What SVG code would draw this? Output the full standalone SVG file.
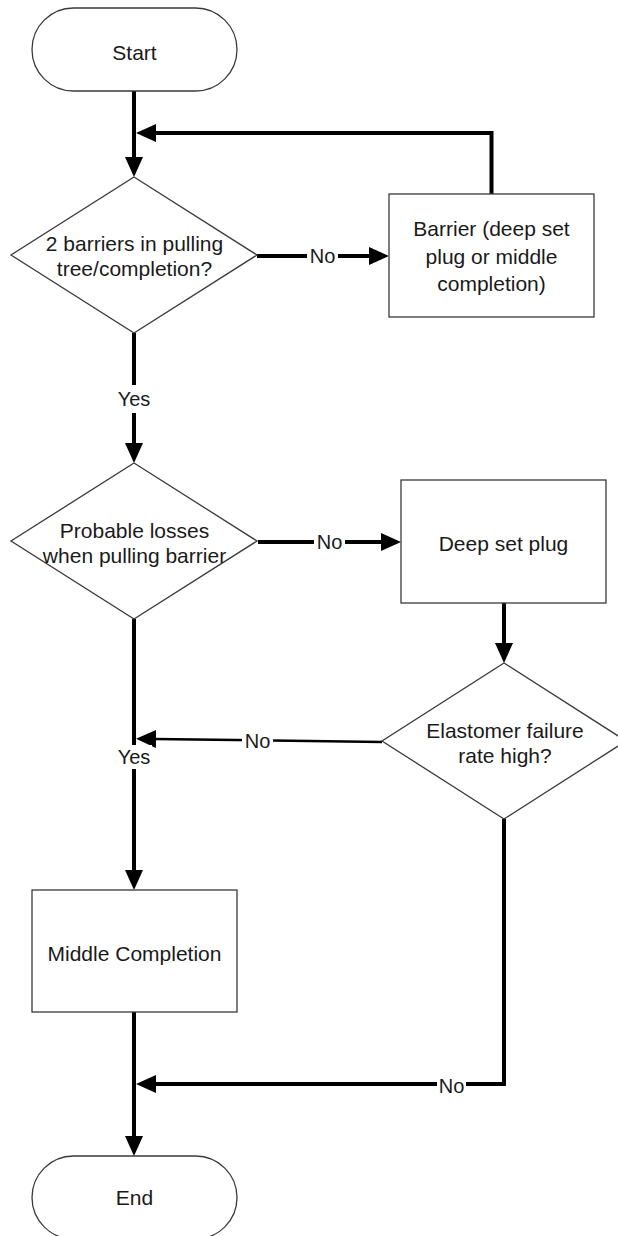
<svg xmlns="http://www.w3.org/2000/svg" width="618" height="1236" viewBox="0 0 618 1236">
<style>
.node{fill:#fff;stroke:#3a3a3a;stroke-width:1.3}
.t{font-family:"Liberation Sans",Arial,sans-serif;font-size:21px;fill:#1a1a1a;text-anchor:middle;dominant-baseline:central}
.lbl{font-family:"Liberation Sans",Arial,sans-serif;font-size:20px;fill:#1a1a1a;text-anchor:middle;dominant-baseline:central}
.c{fill:none;stroke:#000;stroke-width:4;stroke-linejoin:miter;stroke-linecap:butt;marker-end:url(#ah)}
.thin{stroke-width:2.5}
.bg{fill:#fff}
</style>
<defs>
<marker id="ah" markerUnits="userSpaceOnUse" viewBox="0 0 20 18" markerWidth="20" markerHeight="18" refX="2" refY="9" orient="auto">
<path d="M0,0 L20,9 L0,18 z" fill="#000"/>
</marker>
</defs>
<rect width="618" height="1236" fill="#fff"/>
<g id="connectors">
<path class="c" d="M134,91 V159"/>
<path class="c" d="M257,256 H371"/>
<path class="c" d="M491.5,194 V133 H154"/>
<path class="c" d="M134,333 V445"/>
<path class="c" d="M258,542 H383"/>
<path class="c" d="M504,603 V645"/>
<path class="c thin" d="M382,742 L154,739"/>
<path class="c" d="M134,619 V872"/>
<path class="c" d="M504,819 V1084 H154"/>
<path class="c" d="M134,1012 V1138"/>
<g id="labels">
<rect class="bg" x="307" y="244" width="31" height="24"/><text class="lbl" x="322.5" y="256">No</text>
<rect class="bg" x="116" y="385" width="36" height="28"/><text class="lbl" x="134" y="399">Yes</text>
<rect class="bg" x="314" y="530" width="31" height="24"/><text class="lbl" x="329.5" y="542">No</text>
<rect class="bg" x="242" y="729" width="31" height="24"/><text class="lbl" x="257.5" y="741">No</text>
<rect class="bg" x="116" y="745" width="36" height="24"/><text class="lbl" x="134" y="757">Yes</text>
<rect class="bg" x="437" y="1074" width="29" height="24"/><text class="lbl" x="451.5" y="1086">No</text>
</g>
</g>
<g id="start">
<rect class="node" x="32" y="8" width="205" height="83" rx="41.5" ry="41.5"/>
<text class="t" x="134.5" y="52">Start</text>
</g>
<g id="decision1">
<polygon class="node" points="134,177 257,255 134,333 11,255"/>
<text class="t" x="134.5" y="243">2 barriers in pulling</text>
<text class="t" x="134.5" y="268">tree/completion?</text>
</g>
<g id="barrier">
<rect class="node" x="389" y="194" width="205" height="123"/>
<text class="t" x="491.5" y="228">Barrier (deep set</text>
<text class="t" x="491.5" y="256">plug or middle</text>
<text class="t" x="491.5" y="283">completion)</text>
</g>
<g id="decision2">
<polygon class="node" points="134,463 257,541 134,619 11,541"/>
<text class="t" x="134.5" y="530">Probable losses</text>
<text class="t" x="134.5" y="555">when pulling barrier</text>
</g>
<g id="deepset">
<rect class="node" x="401" y="480" width="205" height="123"/>
<text class="t" x="503.5" y="543">Deep set plug</text>
</g>
<g id="decision3">
<polygon class="node" points="504,663 626,741 504,819 382,741"/>
<text class="t" x="505" y="730">Elastomer failure</text>
<text class="t" x="505" y="755">rate high?</text>
</g>
<g id="middle">
<rect class="node" x="32" y="890" width="205" height="122"/>
<text class="t" x="134.5" y="953">Middle Completion</text>
</g>
<g id="end">
<rect class="node" x="32" y="1156" width="205" height="83" rx="41.5" ry="41.5"/>
<text class="t" x="134.5" y="1197">End</text>
</g>
</svg>
